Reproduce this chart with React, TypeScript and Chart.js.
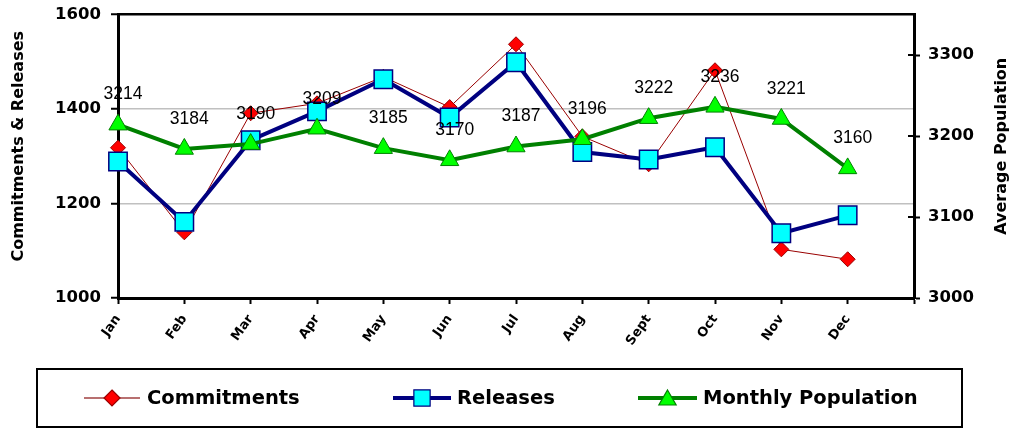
import React, { useEffect, useRef } from 'react';
import { Chart, registerables } from 'chart.js';

Chart.register(...registerables);

const months = ['Jan', 'Feb', 'Mar', 'Apr', 'May', 'Jun', 'Jul', 'Aug', 'Sept', 'Oct', 'Nov', 'Dec'];
const commitments = [1318, 1139, 1391, 1412, 1468, 1404, 1537, 1342, 1283, 1482, 1103, 1082];
const releases = [1289, 1161, 1334, 1395, 1463, 1382, 1499, 1309, 1293, 1319, 1137, 1175];
const population = [3214, 3184, 3190, 3209, 3185, 3170, 3187, 3196, 3222, 3236, 3221, 3160];
const leftTicks = [1000, 1200, 1400, 1600];
const rightTicks = [3000, 3100, 3200, 3300];
const rightMax = 3350;
const seriesNames = ['Commitments', 'Releases', 'Monthly Population'];

const TICK_FONT = { family: "'DejaVu Sans', sans-serif", size: 16.5, weight: 'bold' as const };

function drawShape(ctx: CanvasRenderingContext2D, style: string, x: number, y: number, r: number) {
  ctx.beginPath();
  if (style === 'rectRot') {
    ctx.moveTo(x, y - r);
    ctx.lineTo(x + r, y);
    ctx.lineTo(x, y + r);
    ctx.lineTo(x - r, y);
  } else if (style === 'rect') {
    const s = Math.SQRT1_2 * r;
    ctx.rect(x - s, y - s, 2 * s, 2 * s);
  } else {
    const a = Math.PI * 2 / 3;
    ctx.moveTo(x, y - r);
    ctx.lineTo(x + Math.sin(a) * r, y - Math.cos(a) * r);
    ctx.lineTo(x - Math.sin(a) * r, y - Math.cos(a) * r);
  }
  ctx.closePath();
}

const extrasPlugin = {
  id: 'extras',
  afterDatasetsDraw(chart: any) {
    const ctx = chart.ctx as CanvasRenderingContext2D;
    const meta = chart.getDatasetMeta(2);
    ctx.save();
    ctx.font = "17.5px 'Liberation Sans', Arial, sans-serif";
    ctx.fillStyle = '#000';
    ctx.textAlign = 'center';
    ctx.textBaseline = 'middle';
    meta.data.forEach((pt: any, i: number) => {
      ctx.fillText(String(population[i]), pt.x + 5, pt.y - 30);
    });
    ctx.restore();
  },
  afterDraw(chart: any) {
    const ctx = chart.ctx as CanvasRenderingContext2D;
    const area = chart.chartArea;
    ctx.save();
    ctx.font = "bold 16px 'DejaVu Sans', sans-serif";
    ctx.fillStyle = '#000';
    ctx.textAlign = 'center';
    ctx.textBaseline = 'middle';
    const midY = (area.top + area.bottom) / 2 - 10;
    ctx.save();
    ctx.translate(18.5, midY);
    ctx.rotate(-Math.PI / 2);
    ctx.fillText('Commitments & Releases', 0, 0);
    ctx.restore();
    ctx.save();
    ctx.translate(1002, midY);
    ctx.rotate(-Math.PI / 2);
    ctx.fillText('Average Population', 0, 0);
    ctx.restore();

    const ys = chart.scales.y2;
    ctx.strokeStyle = '#000';
    ctx.lineWidth = 2;
    rightTicks.forEach((v) => {
      const py = ys.getPixelForValue(v);
      ctx.beginPath();
      ctx.moveTo(area.right - 6, py);
      ctx.lineTo(area.right, py);
      ctx.stroke();
    });

    ctx.lineWidth = 2;
    ctx.strokeStyle = '#000';
    ctx.strokeRect(37, 369, 925, 58);
    const ly = 398;
    const items = [
      { x1: 84, x2: 140, text: 147, line: '#A04040', lw: 1.5, style: 'rectRot', r: 8, fill: '#FF0000', stroke: '#990000' },
      { x1: 393, x2: 451, text: 457, line: '#000080', lw: 4, style: 'rect', r: 11.5, fill: '#00FFFF', stroke: '#000080' },
      { x1: 638, x2: 697, text: 703, line: '#008000', lw: 4, style: 'triangle', r: 10, fill: '#00FF00', stroke: '#008000' },
    ];
    ctx.font = "bold 19.5px 'DejaVu Sans', sans-serif";
    ctx.textAlign = 'left';
    ctx.textBaseline = 'middle';
    items.forEach((it, i) => {
      ctx.strokeStyle = it.line;
      ctx.lineWidth = it.lw;
      ctx.beginPath();
      ctx.moveTo(it.x1, ly);
      ctx.lineTo(it.x2, ly);
      ctx.stroke();
      const cx = (it.x1 + it.x2) / 2;
      drawShape(ctx, it.style, cx, it.style === 'triangle' ? ly + 2 : ly, it.r);
      ctx.fillStyle = it.fill;
      ctx.fill();
      ctx.strokeStyle = it.stroke;
      ctx.lineWidth = 1.2;
      ctx.stroke();
      ctx.fillStyle = '#000';
      ctx.fillText(seriesNames[i], it.text, ly + 1);
    });
    ctx.restore();
  },
};

export default function App() {
  const canvasRef = useRef<HTMLCanvasElement | null>(null);

  useEffect(() => {
    document.body.style.margin = '0';
    const canvas = canvasRef.current;
    if (!canvas) return;
    const chart = new Chart(canvas, {
      type: 'line',
      data: {
        labels: [...months, ''],
        datasets: [
          {
            label: seriesNames[0],
            data: commitments,
            yAxisID: 'y',
            borderColor: '#990000',
            borderWidth: 1,
            pointStyle: 'rectRot',
            pointRadius: 7.5,
            pointBackgroundColor: '#FF0000',
            pointBorderColor: '#990000',
            pointBorderWidth: 1,
            order: 3,
            tension: 0,
            clip: false as any,
          },
          {
            label: seriesNames[1],
            data: releases,
            yAxisID: 'y',
            borderColor: '#000080',
            borderWidth: 4,
            pointStyle: 'rect',
            pointRadius: 13,
            pointBackgroundColor: '#00FFFF',
            pointBorderColor: '#000080',
            pointBorderWidth: 1.5,
            order: 2,
            tension: 0,
            clip: false as any,
          },
          {
            label: seriesNames[2],
            data: population,
            yAxisID: 'y2',
            borderColor: '#008000',
            borderWidth: 4,
            pointStyle: 'triangle',
            pointRadius: 10.5,
            pointBackgroundColor: '#00FF00',
            pointBorderColor: '#008000',
            pointBorderWidth: 1,
            order: 1,
            tension: 0,
            clip: false as any,
          },
        ],
      },
      options: {
        responsive: false,
        animation: false,
        events: [],
        layout: { padding: { top: 14, bottom: 60, left: 0, right: 0 } },
        plugins: {
          legend: { display: false },
          tooltip: { enabled: false },
        },
        scales: {
          x: {
            type: 'category',
            offset: false,
            afterFit: (s: any) => { s.height = 70; s.paddingLeft = 0; s.paddingRight = 0; },
            grid: {
              drawOnChartArea: false,
              drawTicks: true,
              tickLength: 6,
              tickColor: '#000',
              tickWidth: 2,
            },
            border: { color: '#000', width: 3 },
            ticks: {
              autoSkip: false,
              minRotation: 55,
              maxRotation: 55,
              padding: 8,
              color: '#000',
              font: { family: "'DejaVu Sans', sans-serif", size: 13, weight: 'bold' },
            },
          },
          y: {
            position: 'left',
            min: leftTicks[0],
            max: leftTicks[leftTicks.length - 1],
            afterFit: (s: any) => { s.width = 118; s.paddingTop = 0; s.paddingBottom = 0; },
            afterBuildTicks: (s: any) => { s.ticks = leftTicks.map((v) => ({ value: v })); },
            grid: {
              color: (c: any) => (c.tick && c.tick.value === leftTicks[leftTicks.length - 1] ? '#000' : c.tick && c.tick.value === leftTicks[0] ? 'rgba(0,0,0,0)' : '#C0C0C0'),
              lineWidth: (c: any) => (c.tick && c.tick.value === leftTicks[leftTicks.length - 1] ? 2.5 : 1.5),
              tickLength: 7,
              tickColor: '#000',
              tickWidth: 2,
            },
            border: { color: '#000', width: 3 },
            ticks: {
              color: '#000',
              padding: 10,
              font: TICK_FONT,
              callback: (v: any) => String(v),
            },
          },
          y2: {
            position: 'right',
            min: rightTicks[0],
            max: rightMax,
            afterFit: (s: any) => { s.width = 98; s.paddingTop = 0; s.paddingBottom = 0; },
            afterBuildTicks: (s: any) => { s.ticks = rightTicks.map((v) => ({ value: v })); },
            grid: {
              drawOnChartArea: false,
              tickLength: 6,
              tickColor: '#000',
              tickWidth: 2,
            },
            border: { color: '#000', width: 3 },
            ticks: {
              color: '#000',
              padding: 8,
              font: TICK_FONT,
              callback: (v: any) => String(v),
            },
          },
        },
      },
      plugins: [extrasPlugin],
    });
    return () => chart.destroy();
  }, []);

  return (
    <div style={{ width: 1012, height: 428, background: '#fff' }}>
      <canvas ref={canvasRef} width={1012} height={428} style={{ display: 'block' }} />
    </div>
  );
}
